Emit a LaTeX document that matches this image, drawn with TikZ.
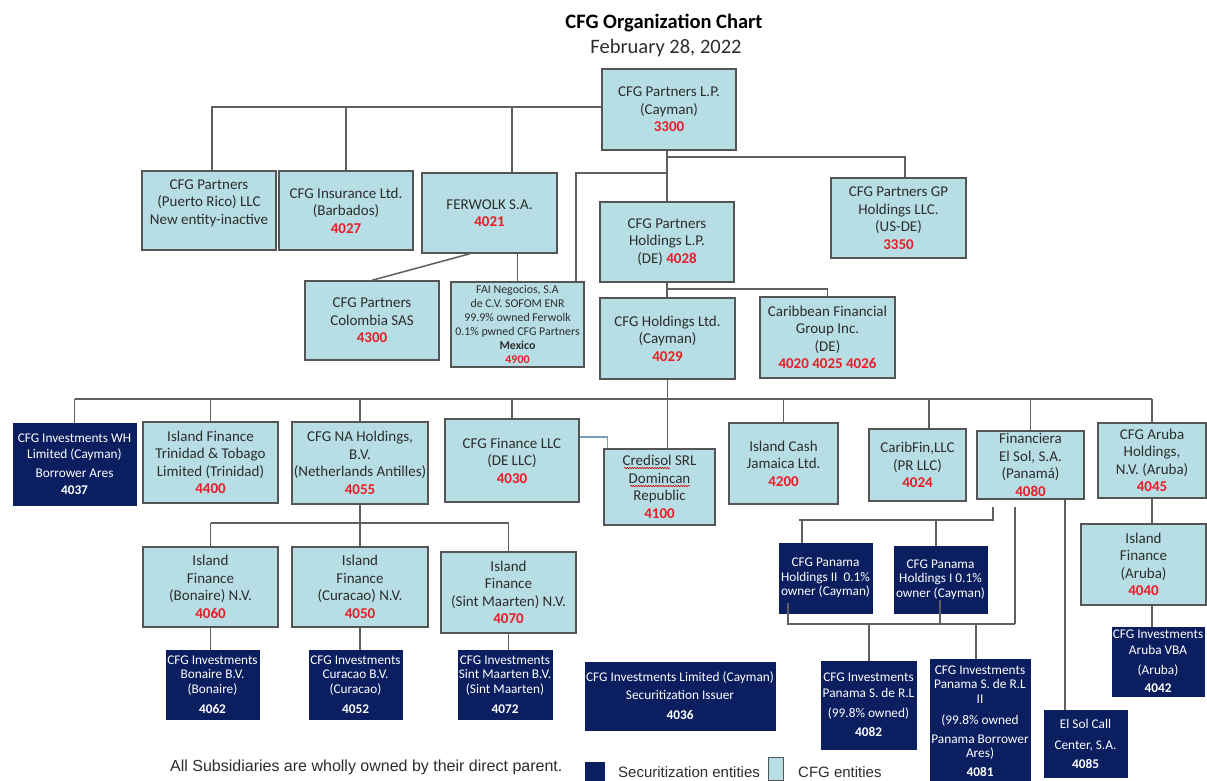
\documentclass[tikz,border=0pt]{standalone}
\usepackage{fontspec}
\setmainfont{Carlito}
\newfontfamily\arialf{Liberation Sans}
\usetikzlibrary{calc,decorations.pathmorphing}
\definecolor{lightfill}{RGB}{183,222,228}
\definecolor{boxline}{RGB}{85,85,85}
\definecolor{darkfill}{RGB}{10,30,96}
\definecolor{numred}{RGB}{232,30,40}
\definecolor{linec}{RGB}{95,95,95}
\definecolor{txt}{RGB}{45,45,45}
\definecolor{bluelink}{RGB}{120,160,190}
\newcommand{\rd}[1]{\textcolor{numred}{\textbf{#1}}}
\tikzset{
  lb/.style={draw=boxline, line width=1.4pt, fill=lightfill, align=center, inner sep=0pt, text=txt, font=\fontsize{15}{17.5}\selectfont},
  db/.style={draw=darkfill, fill=darkfill, align=center, inner sep=0pt, text=white, font=\fontsize{13.3}{14.5}\selectfont},
  fai/.style={lb, font=\fontsize{11.9}{14}\selectfont},
  conn/.style={draw=linec, line width=1.5pt},
  blueconn/.style={draw=bluelink, line width=1.5pt},
  squiggle/.style={draw=red!80!black, line width=0.6pt, decorate, decoration={snake, amplitude=0.6pt, segment length=2.5pt}},
  sz/.style 2 args={minimum width=#1pt, minimum height=#2pt},
  lgtext/.style={anchor=west, inner sep=0pt, text=txt, font=\arialf\fontsize{15}{17}\selectfont},
}
\begin{document}
\begin{tikzpicture}[x=1pt,y=-1pt]
\fill[white] (0,0) rectangle (1207,780);
\useasboundingbox (0,0) rectangle (1207,780);

% titles
\node[text=black, font=\bfseries\fontsize{20.5}{24}\selectfont] (title) at (664,23) {CFG Organization Chart};
\node[text=txt, font=\fontsize{20.5}{24}\selectfont] (date) at (666,48) {February 28, 2022};

% level 1
\node[lb, sz={134}{81}] (top) at (669,109.5) {CFG Partners L.P.\\(Cayman)\\\rd{3300}};
\node[lb, sz={134}{79}] (pr) at (209,210.5) {CFG Partners\\(Puerto Rico) LLC\\New entity-inactive\\\mbox{}};
\node[lb, sz={134}{79}] (ins) at (346,210.5) {CFG Insurance Ltd.\\(Barbados)\\\rd{4027}};
\node[lb, sz={135}{80}] (fer) at (489.5,213) {FERWOLK S.A.\\\rd{4021}};
\node[lb, sz={134}{80}] (hold) at (667,242) {CFG Partners\\Holdings L.P.\\(DE) \rd{4028}};
\node[lb, sz={135}{80}] (gp) at (898.5,218) {CFG Partners GP\\Holdings LLC.\\(US-DE)\\\rd{3350}};
\node[lb, sz={134}{79}] (col) at (372,320.5) {CFG Partners\\Colombia SAS\\\rd{4300}};
\node[fai, sz={133}{85}] (fai) at (517.5,324.5) {FAI Negocios, S.A\\de C.V. SOFOM ENR\\99.9\% owned Ferwolk\\0.1\% pwned CFG Partners\\\textbf{Mexico}\\\rd{4900}};
\node[lb, sz={135}{81}] (hl) at (667.5,338.5) {CFG Holdings Ltd.\\(Cayman)\\\rd{4029}};
\node[lb, sz={135}{81}] (carib) at (827.5,337.5) {Caribbean Financial\\Group Inc.\\(DE)\\\rd{4020 4025 4026}};

% level 3
\node[db, sz={123}{82}] (wh) at (74.5,464) {CFG Investments WH\\[2pt]Limited (Cayman)\\[4pt]Borrower Ares\\[3pt]\textbf{4037}};
\node[lb, sz={135}{81}] (trin) at (210.5,462.5) {Island Finance\\Trinidad \& Tobago\\Limited (Trinidad)\\\rd{4400}};
\node[lb, sz={136}{82}] (na) at (360,463) {CFG NA Holdings,\\B.V.\\(Netherlands Antilles)\\\rd{4055}};
\node[lb, sz={134}{83}] (fin) at (512,460.5) {CFG Finance LLC\\(DE LLC)\\\rd{4030}};
\node[lb, sz={111}{76}] (cred) at (659.5,487) {Credisol SRL\\Domincan\\Republic\\\rd{4100}};
\node[lb, sz={109}{81}] (cash) at (783.5,463.5) {Island Cash\\Jamaica Ltd.\\\rd{4200}};
\node[lb, sz={97}{72}] (cfin) at (917.5,465) {CaribFin,LLC\\(PR LLC)\\\rd{4024}};
\node[lb, sz={107}{68}] (fsol) at (1030.5,465) {Financiera\\El Sol, S.A.\\(Panamá)\\\rd{4080}};
\node[lb, sz={108}{75}] (aruh) at (1152,460.5) {CFG Aruba\\Holdings,\\N.V. (Aruba)\\\rd{4045}};

% level 4
\node[lb, sz={135}{80}] (bon) at (210.5,587) {Island\\Finance\\(Bonaire) N.V.\\\rd{4060}};
\node[lb, sz={136}{80}] (cur) at (360,587) {Island\\Finance\\(Curacao) N.V.\\\rd{4050}};
\node[lb, sz={135}{81}] (sm) at (508.5,592.5) {Island\\Finance\\(Sint Maarten) N.V.\\\rd{4070}};
\node[db, sz={93}{69}] (boni) at (212.5,684.5) {CFG Investments\\Bonaire B.V.\\(Bonaire)\\[6pt]\textbf{4062}};
\node[db, sz={93}{69}] (curi) at (355.5,684.5) {CFG Investments\\Curacao B.V.\\(Curacao)\\[6pt]\textbf{4052}};
\node[db, sz={94}{69}] (smi) at (505,684.5) {CFG Investments\\Sint Maarten B.V.\\(Sint Maarten)\\[6pt]\textbf{4072}};
\node[db, sz={190}{68}] (cil) at (680,696) {CFG Investments Limited (Cayman)\\[3.5pt]Securitization Issuer\\[5.5pt]\textbf{4036}};
\node[db, sz={93}{70}] (p2) at (825.5,578) {CFG Panama\\Holdings II~~0.1\%\\owner (Cayman)};
\node[db, sz={93}{67}] (p1) at (940.5,579.5) {CFG Panama\\Holdings I 0.1\%\\owner (Cayman)};
\node[lb, sz={125}{81}] (ifa) at (1143.5,564.5) {Island\\Finance\\(Aruba)\\\rd{4040}};
\node[db, sz={92}{69}] (vba) at (1158,661.5) {CFG Investments\\[1.5pt]Aruba VBA\\[5.5pt](Aruba)\\[3.5pt]\textbf{4042}};
\node[db, sz={95}{88}] (p82) at (868.5,705) {CFG Investments\\[1.5pt]Panama S. de R.L\\[5.5pt](99.8\% owned)\\[4.5pt]\textbf{4082}};
\node[db, sz={100}{124}] (p81) at (980,721) {CFG Investments\\Panama S. de R.L\\II\\[7pt](99.8\% owned\\[4pt]Panama Borrower\\Ares)\\[4pt]\textbf{4081}};
\node[db, sz={83}{67}] (elsol) at (1085.5,743.5) {El Sol Call\\[6.5pt]Center, S.A.\\[4.5pt]\textbf{4085}};

% legend and footer
\node[lgtext, font=\arialf\fontsize{16}{18}\selectfont] (foot) at (170,767) {All Subsidiaries are wholly owned by their direct parent.};
\node[fill=darkfill, inner sep=0pt, sz={20}{19}] (lgdark) at (595,771) {};
\node[lgtext] (lgdarkt) at (618,772) {Securitization entities};
\node[draw=boxline, line width=0.8pt, fill=lightfill, inner sep=0pt, sz={15}{23}] (lglight) at (775.5,768.5) {};
\node[lgtext] (lglightt) at (798,772) {CFG entities};

% helper coordinates
\coordinate (tl) at ($(top.west)+(0,-2.5)$);
\coordinate (prT) at ($(pr.north)+(3,0)$);
\coordinate (ferT) at ($(fer.north)+(22.5,0)$);
\coordinate (y157) at (0,157);
\coordinate (y173) at (0,173);
\coordinate (y289) at (0,289);
\coordinate (y399) at (0,399);
\coordinate (y523) at (0,523);
\coordinate (gpT) at ($(gp.north)+(6.5,0)$);
\coordinate (faiT) at ($(fai.north)+(58.5,0)$);
\coordinate (ferB) at ($(fer.south)+(-19.5,0)$);
\coordinate (cfinT) at ($(cfin.north)+(11.5,0)$);
\coordinate (finE) at ($(fin.east)+(0,-23.5)$);
\coordinate (credT) at ($(cred.north west)+(4,0)$);
\coordinate (esx) at (1065,0);
\coordinate (s1) at (993,507);
\coordinate (s2) at (993,520);
\coordinate (u1) at (799,520);
\coordinate (pa) at (802,520);
\coordinate (pb) at (936,520);
\coordinate (pc) at (788,603);
\coordinate (pd) at (940,600);
\coordinate (l1) at (788,624);
\coordinate (l2) at (1015,624);
\coordinate (v1) at (1015,507);
\coordinate (pe) at (869,624);
\coordinate (pf) at (976,624);
\coordinate (sq1a) at (624,468);
\coordinate (sq1b) at (670,468);
\coordinate (sq2a) at (630,486);
\coordinate (sq2b) at (690,486);

% spell-check marks in Credisol box
\draw[squiggle] (sq1a) -- (sq1b);
\draw[squiggle] (sq2a) -- (sq2b);

% connectors level 1
\draw[conn] (prT) |- (tl);
\draw[conn] (ins.north) -- (ins.north |- tl);
\draw[conn] (ferT) -- (ferT |- tl);
\draw[conn] (top.south -| hold.north) -- (hold.north);
\draw[conn] (hold.north |- y157) -| (gpT);
\draw[conn] (hold.north |- y173) -| (faiT);
\draw[conn] (fai.north) -- (fai.north |- fer.south);
\draw[conn] (ferB) -- (col.north);
\draw[conn] (hold.south) -- (hold.south |- hl.north);
\draw[conn] (hold.south |- y289) -| (carib.north);
\draw[conn] (hl.south) -- (hl.south |- cred.north);

% main bus
\draw[conn] (wh.north |- y399) -- (aruh.north |- y399);
\foreach \n in {wh,trin,na,fin,cash,fsol,aruh}{
  \draw[conn] (\n.north) -- (\n.north |- y399);
}
\draw[conn] (cfinT) -- (cfinT |- y399);
\draw[blueconn] (finE) -| (credT);

% NA subtree
\draw[conn] (na.south) -- (na.south |- y523);
\draw[conn] (bon.north |- y523) -- (sm.north |- y523);
\foreach \n in {bon,cur,sm}{
  \draw[conn] (\n.north) -- (\n.north |- y523);
}
\draw[conn] (bon.south) -- (bon.south |- boni.north);
\draw[conn] (cur.south) -- (cur.south |- curi.north);
\draw[conn] (sm.south) -- (sm.south |- smi.north);

% Aruba subtree
\draw[conn] (aruh.south) -- (aruh.south |- ifa.north);
\draw[conn] (ifa.south -| aruh.south) -- (aruh.south |- vba.north);

% Financiera subtree
\draw[conn] (fsol.south -| esx) -- (esx |- elsol.north);
\draw[conn] (s1) -- (s2) -- (u1);
\draw[conn] (pa) -- (pa |- p2.north);
\draw[conn] (pb) -- (pb |- p1.north);
\draw[conn] (pc) -- (l1) -- (l2);
\draw[conn] (pd) -- (pd |- l1);
\draw[conn] (v1) -- (l2);
\draw[conn] (pe) -- (pe |- p82.north);
\draw[conn] (pf) -- (pf |- p81.north);
\end{tikzpicture}
\end{document}
